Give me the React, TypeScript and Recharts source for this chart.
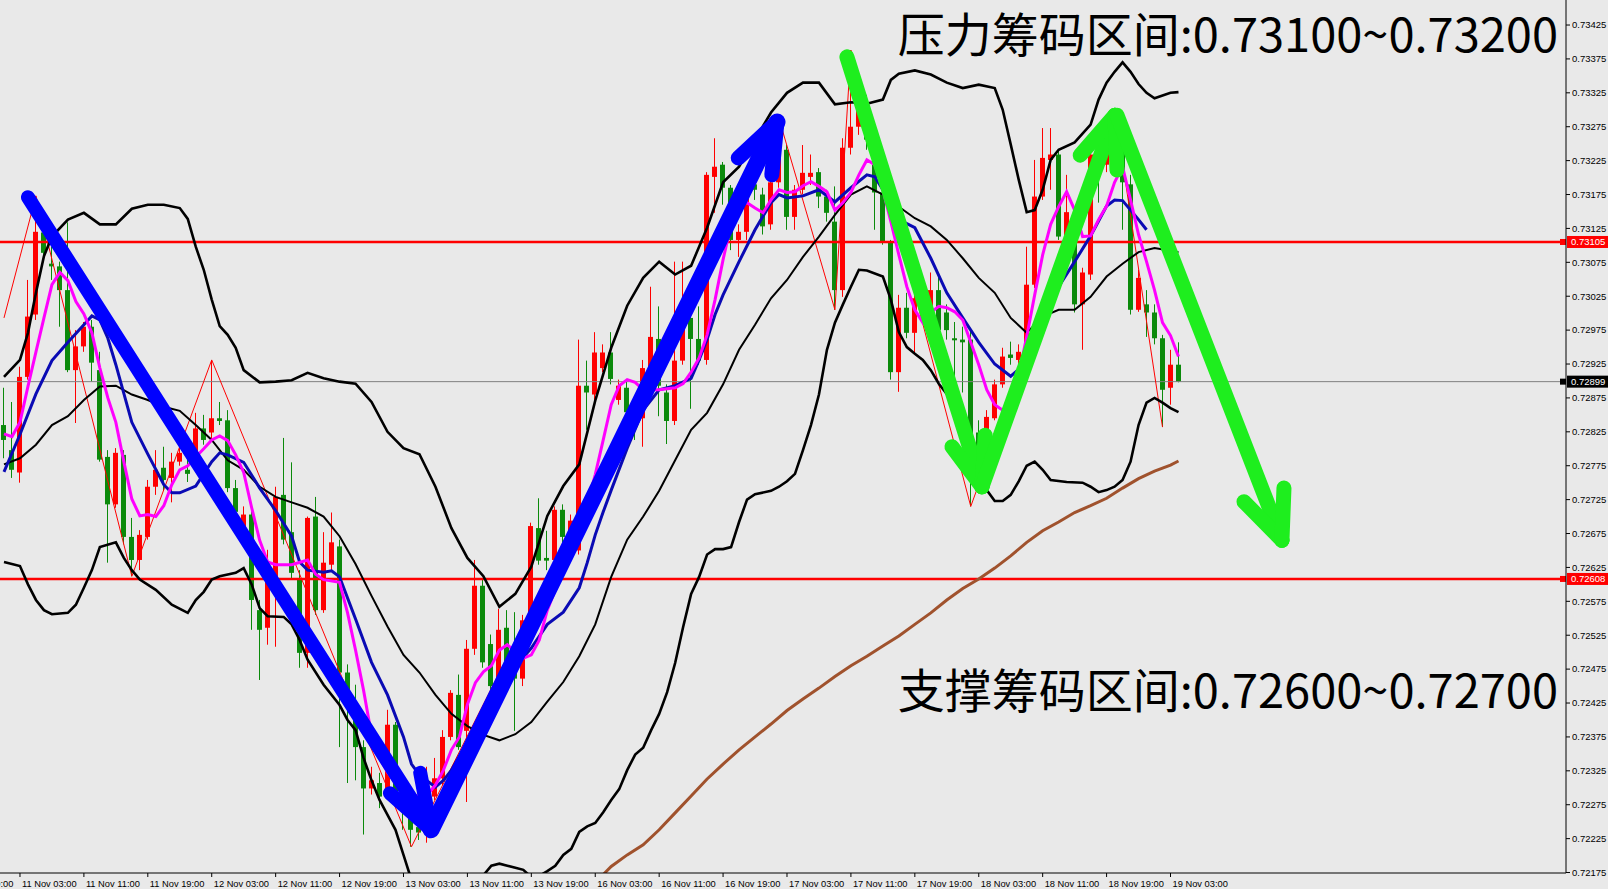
import React from 'react';
import { ComposedChart, Bar, Line, XAxis, YAxis, ReferenceLine } from 'recharts';

// prices are written in points (1 point = 0.00001)
const POINT = 100000;
const TOTAL = 196; // H1 slots across the plot (148 bars + chart shift)

// AUDUSD H1, 11 Nov 01:00 .. 19 Nov 04:00 : [open, high, low, close]
const ohlc: [number, number, number, number][] = [
  [72835,72890,72786,72813],[72798,72869,72757,72769],[72765,72921,72750,72906],[72906,73049,72902,72995],
  [72998,73173,72990,73120],[73119,73126,73076,73089],[73073,73098,73049,73069],[73069,73076,72980,73034],
  [73034,73134,72913,72916],[72916,72975,72838,72951],[72951,72987,72943,72980],[72980,72990,72899,72927],
  [72916,72943,72781,72784],[72788,72798,72632,72718],[72718,72801,72713,72794],[72791,72798,72659,72670],
  [72670,72698,72612,72636],[72636,72680,72621,72673],[72670,72754,72666,72744],[72744,72798,72732,72769],
  [72772,72803,72739,72754],[72757,72794,72721,72781],[72781,72816,72775,72794],[72769,72791,72751,72763],
  [72794,72853,72788,72830],[72830,72850,72806,72813],[72824,72931,72813,72845],[72845,72869,72835,72841],
  [72842,72857,72736,72742],[72742,72754,72695,72707],[72666,72715,72659,72703],[72703,72718,72533,72577],
  [72562,72577,72459,72533],[72536,72651,72511,72607],[72607,72744,72508,72729],[72732,72816,72659,72666],
  [72677,72780,72609,72617],[72607,72621,72477,72499],[72499,72700,72477,72698],[72700,72729,72555,72562],
  [72562,72677,72558,72632],[72629,72706,72621,72662],[72656,72666,72360,72470],[72470,72482,72307,72430],
  [72415,72452,72311,72360],[72360,72370,72231,72299],[72299,72331,72290,72311],[72307,72322,72270,72287],
  [72287,72415,72282,72393],[72393,72397,72282,72293],[72293,72311,72238,72267],[72267,72282,72213,72238],
  [72242,72260,72223,72234],[72234,72331,72219,72311],[72287,72344,72282,72314],[72314,72385,72304,72375],
  [72375,72444,72370,72440],[72437,72467,72356,72360],[72384,72518,72279,72505],[72505,72636,72496,72598],
  [72598,72607,72477,72485],[72512,72526,72444,72450],[72450,72564,72420,72533],[72536,72562,72456,72461],
  [72488,72559,72384,72461],[72461,72555,72450,72547],[72547,72691,72541,72686],[72683,72727,72629,72635],
  [72639,72679,72621,72635],[72636,72715,72629,72710],[72710,72718,72659,72670],[72647,72703,72636,72694],
  [72650,72961,72644,72893],[72893,72930,72828,72883],[72880,72972,72872,72942],[72919,72954,72913,72942],
  [72942,72972,72895,72903],[72872,72902,72865,72893],[72890,72902,72842,72854],[72854,72872,72813,72835],
  [72845,72931,72803,72919],[72893,73039,72887,72965],[72962,73010,72848,72893],[72883,72895,72807,72841],
  [72841,73076,72835,72930],[72930,73076,72924,72980],[72993,73020,72859,72962],[72962,73010,72924,72930],
  [72931,73208,72924,73204],[73201,73258,73148,73216],[73219,73223,73160,73185],[73185,73189,73093,73108],
  [73108,73131,73083,73120],[73120,73182,73108,73170],[73190,73197,73167,73182],[73175,73185,73116,73128],
  [73131,73204,73123,73193],[73193,73287,73185,73241],[73241,73248,73123,73142],[73142,73189,73123,73182],
  [73182,73248,73175,73207],[73201,73234,73189,73207],[73208,73214,73155,73172],[73172,73182,73135,73148],
  [73135,73187,73005,73034],[73034,73258,73024,73244],[73244,73388,73234,73275],[73275,73329,73263,73315],
  [73308,73322,73241,73256],[73256,73270,73123,73178],[73178,73187,73101,73104],[73104,73108,72902,72913],
  [72913,73027,72884,73008],[73008,73030,72963,72971],[72971,73034,72942,73022],[73022,73034,72990,73001],
  [73005,73060,72957,73034],[73034,73057,72968,72975],[73001,73013,72961,72975],[72963,72987,72906,72960],
  [72961,72980,72883,72957],[72961,72975,72715,72818],[72824,72842,72769,72803],[72821,72857,72813,72847],
  [72845,72902,72842,72895],[72895,72949,72890,72936],[72939,72958,72924,72934],[72931,72954,72924,72943],
  [72943,73098,72939,73042],[73042,73226,73037,73172],[73172,73273,73167,73229],[73226,73273,73182,73234],
  [73234,73241,73108,73113],[73113,73204,73108,73149],[73113,73123,73001,73013],[73013,73067,72946,73060],
  [73057,73241,73049,73234],[73226,73241,73163,73204],[73219,73270,73208,73256],[73256,73300,73248,73285],
  [73285,73293,73123,73193],[73190,73204,72998,73005],[73005,73064,73002,73052],[73013,73034,72965,73001],
  [73001,73013,72954,72963],[72963,72968,72832,72887],[72890,72946,72865,72924],[72924,72957,72898,72899],
];

// indicator readings: [bar index, points]
const upperBand: [number, number][] = [
  [0,72906],[2,72931],[3,72971],[4,73030],[5,73084],[6,73113],[8,73138],[10,73148],[12,73131],[14,73131],
  [16,73154],[18,73160],[20,73160],[22,73155],[23,73139],[24,73098],[25,73064],[26,73020],[27,72981],[28,72968],
  [29,72949],[30,72916],[32,72898],[34,72899],[36,72901],[38,72912],[40,72904],[42,72899],[44,72896],[46,72869],
  [48,72825],[50,72801],[52,72792],[54,72744],[56,72683],[58,72639],[60,72612],[62,72567],[64,72586],[66,72626],
  [68,72701],[70,72745],[72,72777],[74,72871],[76,72949],[78,73011],[80,73052],[82,73076],[84,73057],[86,73070],
  [88,73126],[90,73193],[92,73216],[94,73256],[96,73296],[98,73325],[100,73340],[102,73340],[104,73308],[106,73311],
  [108,73309],[110,73315],[111,73344],[112,73353],[114,73358],[116,73352],[118,73340],[120,73332],[122,73337],[124,73332],
  [125,73300],[126,73249],[127,73197],[128,73149],[129,73152],[130,73182],[131,73226],[132,73241],[134,73252],[136,73278],
  [137,73315],[138,73340],[139,73356],[140,73370],[141,73356],[142,73338],[143,73325],[144,73317],[146,73325],[147,73326],
];
const middleBand: [number, number][] = [
  [0,72777],[2,72786],[4,72806],[6,72835],[8,72848],[10,72872],[12,72892],[14,72893],[16,72880],[18,72872],
  [20,72862],[22,72856],[24,72835],[26,72813],[28,72783],[30,72769],[32,72744],[34,72729],[36,72721],[38,72713],
  [40,72700],[42,72671],[44,72630],[46,72583],[48,72538],[50,72496],[52,72470],[54,72437],[56,72409],[58,72391],
  [60,72378],[62,72370],[64,72379],[66,72397],[68,72427],[70,72456],[72,72494],[74,72541],[76,72611],[78,72666],
  [80,72700],[82,72738],[84,72783],[86,72828],[88,72853],[90,72895],[92,72946],[94,72983],[96,73022],[98,73049],
  [100,73083],[102,73113],[104,73145],[106,73175],[108,73187],[110,73175],[112,73157],[114,73140],[116,73128],[118,73108],
  [120,73081],[122,73052],[124,73030],[126,72993],[128,72971],[130,72995],[132,73005],[134,73005],[136,73024],[138,73054],
  [140,73073],[142,73090],[144,73096],[146,73092],[147,73090],
];
const lowerBand: [number, number][] = [
  [0,72633],[2,72627],[3,72600],[4,72577],[5,72562],[6,72556],[8,72558],[9,72570],[10,72595],[11,72621],
  [12,72655],[14,72662],[15,72639],[16,72621],[17,72607],[19,72592],[21,72570],[23,72558],[24,72577],[25,72589],
  [26,72607],[27,72612],[29,72617],[30,72624],[31,72600],[32,72565],[33,72553],[35,72552],[36,72541],[37,72518],
  [38,72489],[40,72452],[42,72422],[43,72400],[44,72385],[45,72344],[46,72311],[47,72282],[48,72260],[49,72238],
  [50,72201],[51,72164],[52,72135],[54,72127],[56,72127],[58,72142],[59,72158],[60,72171],[61,72185],[62,72188],
  [63,72185],[64,72182],[65,72179],[66,72168],[67,72170],[68,72177],[69,72185],[70,72201],[71,72210],[72,72235],
  [73,72243],[74,72248],[75,72264],[76,72282],[77,72298],[78,72326],[79,72349],[80,72359],[81,72385],[82,72409],
  [83,72441],[84,72484],[85,72537],[86,72586],[87,72611],[88,72644],[89,72652],[90,72652],[91,72655],[92,72692],
  [93,72725],[94,72733],[96,72738],[97,72744],[98,72752],[99,72763],[100,72798],[101,72835],[102,72880],[103,72946],
  [104,72986],[105,73013],[106,73039],[107,73064],[108,73063],[110,73054],[111,73020],[112,72972],[113,72950],[114,72940],
  [115,72931],[116,72916],[117,72896],[118,72881],[119,72854],[120,72813],[121,72784],[122,72761],[123,72739],[124,72723],
  [125,72723],[126,72732],[127,72752],[128,72775],[129,72781],[130,72769],[131,72754],[133,72751],[135,72750],[136,72744],
  [137,72736],[138,72739],[139,72744],[140,72754],[141,72781],[142,72835],[143,72868],[144,72875],[145,72868],[146,72860],
  [147,72854],
];
const blueMA: [number, number][] = [
  [0,72766],[2,72821],[4,72881],[6,72930],[8,72957],[10,72983],[11,72996],[12,72990],[13,72963],[14,72924],
  [16,72839],[18,72792],[20,72747],[21,72735],[22,72735],[24,72745],[26,72781],[27,72794],[28,72791],[30,72780],
  [32,72742],[34,72709],[36,72671],[37,72633],[38,72621],[40,72618],[41,72620],[42,72611],[44,72549],[46,72485],
  [48,72437],[50,72375],[51,72335],[52,72319],[54,72301],[55,72311],[56,72326],[58,72367],[60,72415],[62,72452],
  [64,72479],[66,72506],[68,72541],[70,72559],[72,72595],[73,72632],[74,72673],[75,72707],[76,72739],[78,72801],
  [80,72857],[82,72887],[84,72893],[86,72904],[87,72931],[88,72961],[89,72998],[90,73027],[92,73076],[94,73123],
  [96,73163],[97,73175],[98,73170],[100,73173],[102,73182],[104,73164],[106,73185],[108,73204],[109,73201],[110,73182],
  [112,73138],[114,73126],[116,73081],[118,73030],[120,72993],[122,72957],[124,72925],[126,72907],[128,72927],[130,72971],
  [131,73008],[132,73039],[134,73076],[136,73114],[138,73158],[139,73167],[140,73166],[142,73138],[143,73123],
];
const magentaMA: [number, number][] = [
  [0,72822],[1,72818],[2,72839],[3,72892],[4,72943],[5,72993],[6,73042],[7,73060],[8,73048],[9,73017],
  [10,72999],[11,72971],[12,72919],[13,72875],[14,72839],[15,72781],[16,72726],[17,72701],[18,72703],[19,72700],
  [20,72716],[21,72747],[22,72769],[23,72775],[24,72788],[25,72800],[26,72813],[27,72819],[28,72812],[29,72791],
  [30,72765],[31,72713],[32,72665],[33,72633],[34,72629],[36,72629],[38,72636],[39,72615],[40,72607],[42,72603],
  [43,72558],[44,72503],[45,72444],[46,72378],[47,72344],[48,72323],[49,72307],[50,72297],[51,72290],[52,72287],
  [53,72290],[54,72304],[55,72326],[56,72356],[57,72375],[58,72423],[59,72455],[60,72471],[61,72480],[62,72503],
  [63,72511],[64,72500],[65,72491],[66,72496],[67,72518],[68,72562],[69,72592],[70,72629],[71,72666],[72,72703],
  [73,72718],[74,72762],[75,72813],[76,72865],[77,72893],[78,72902],[79,72898],[80,72887],[82,72887],[84,72890],
  [85,72896],[86,72913],[87,72934],[88,72968],[89,73020],[90,73079],[91,73131],[92,73157],[93,73163],[94,73155],
  [95,73148],[96,73167],[97,73182],[98,73178],[99,73179],[100,73188],[101,73194],[102,73187],[103,73179],[104,73152],
  [105,73163],[106,73178],[107,73204],[108,73226],[109,73219],[110,73182],[111,73135],[112,73086],[113,73039],[114,73005],
  [115,72986],[116,73001],[117,73010],[118,73008],[119,73002],[120,72990],[121,72957],[122,72924],[123,72887],[124,72865],
  [125,72857],[126,72872],[127,72909],[128,72965],[129,73027],[130,73086],[131,73131],[132,73157],[133,73179],[134,73152],
  [135,73113],[136,73114],[137,73138],[138,73158],[139,73193],[140,73216],[141,73167],[142,73116],[143,73076],[144,73034],
  [145,72986],[146,72967],[147,72936],
];
const brownMA: [number, number][] = [
  [74,72157],[75,72172],[76,72184],[78,72201],[80,72216],[82,72238],[84,72263],[86,72288],[88,72313],[90,72335],
  [92,72356],[94,72375],[96,72394],[98,72414],[100,72431],[102,72447],[104,72464],[106,72480],[108,72494],[110,72509],
  [112,72524],[114,72541],[116,72558],[118,72577],[120,72594],[122,72608],[124,72624],[126,72642],[128,72662],[130,72679],
  [132,72692],[134,72706],[136,72716],[138,72727],[140,72742],[142,72756],[144,72767],[146,72776],[147,72782],
];
const zigzag: [number, number][] = [
  [0,72993],[4,73173],[16,72612],[26,72931],[51,72213],[97,73287],[104,73005],[106,73388],[121,72715],[139,73300],[145,72832],
];

const timeTicks: [number, string][] = [
  [2,'11 Nov 03:00'],[10,'11 Nov 11:00'],[18,'11 Nov 19:00'],[26,'12 Nov 03:00'],[34,'12 Nov 11:00'],
  [42,'12 Nov 19:00'],[50,'13 Nov 03:00'],[58,'13 Nov 11:00'],[66,'13 Nov 19:00'],[74,'16 Nov 03:00'],
  [82,'16 Nov 11:00'],[90,'16 Nov 19:00'],[98,'17 Nov 03:00'],[106,'17 Nov 11:00'],[114,'17 Nov 19:00'],
  [122,'18 Nov 03:00'],[130,'18 Nov 11:00'],[138,'18 Nov 19:00'],[146,'19 Nov 03:00'],
];
const cutLabel = '10 Nov 19:00';
const yTicks: number[] = [
  0.72175,0.72225,0.72275,0.72325,0.72375,0.72425,0.72475,0.72525,0.72575,0.72625,0.72675,0.72725,0.72775,
  0.72825,0.72875,0.72925,0.72975,0.73025,0.73075,0.73125,0.73175,0.73225,0.73275,0.73325,0.73375,0.73425,
];
const yDomain: [number, number] = [0.721743, 0.734619];
const resistanceLine = 0.73105;
const supportLine = 0.72608;
const lastPrice = 0.72899;

const texts = ['压力筹码区间:0.73100~0.73200', '支撑筹码区间:0.72600~0.72700'];

// hand-drawn arrows: [fromBar, fromPrice, toBar, toPrice, width]
const blueArrows: [number, number, number, number, number][] = [
  [3.0, 0.73171, 53.45, 0.72238, 14],
  [53.45, 0.72238, 48.3, 0.72292, 14],
  [53.45, 0.72238, 52.1, 0.72322, 14],
  [53.45, 0.72238, 96.75, 0.73282, 17],
  [96.75, 0.73282, 91.9, 0.73229, 15],
  [96.75, 0.73282, 96.1, 0.73204, 15],
];
const greenArrows: [number, number, number, number, number][] = [
  [105.5, 0.73378, 122.4, 0.72744, 15],
  [122.4, 0.72744, 118.65, 0.72803, 15],
  [122.4, 0.72744, 122.8, 0.72820, 15],
  [122.4, 0.72744, 139.05, 0.73292, 15],
  [139.05, 0.73292, 134.7, 0.73233, 15],
  [139.05, 0.73292, 139.3, 0.73211, 15],
  [139.3, 0.73292, 159.95, 0.72665, 15],
  [159.95, 0.72665, 155.2, 0.72722, 15],
  [159.95, 0.72665, 160.2, 0.72742, 15],
];

const rows: any[] = Array.from({ length: TOTAL }, (_, k) => ({ k }));
ohlc.forEach(([o, h, l, c], k) => Object.assign(rows[k], { o: o / POINT, h: h / POINT, l: l / POINT, c: c / POINT }));
const put = (key: string, arr: [number, number][]) => arr.forEach(([k, v]) => { rows[k][key] = v / POINT; });
put('up', upperBand);
put('mid', middleBand);
put('lo', lowerBand);
put('blue', blueMA);
put('mag', magentaMA);
put('brown', brownMA);
put('zz', zigzag);

const tickLabel = new Map(timeTicks);
const AXIS_FONT = "'Liberation Sans', Arial, sans-serif";
const UP = '#FF0000';
const DOWN = '#0B8A0B';

const Candle = (props: any) => {
  const { x, y, width, height, payload } = props;
  if (!payload || payload.o == null) return null;
  const { o, h, l, c } = payload;
  const color = c >= o ? UP : DOWN;
  const top = height < 0 ? y + height : y;
  const hh = Math.abs(height);
  const ppu = h - l > 0 ? hh / (h - l) : 0;
  const bTop = top + (h - Math.max(o, c)) * ppu;
  const bBot = top + (h - Math.min(o, c)) * ppu;
  const col = Math.round(x + width / 2 - 0.5);
  return (
    <g>
      <line x1={col + 0.5} x2={col + 0.5} y1={top} y2={top + hh} stroke={color} strokeWidth={1} />
      <rect x={col - 2} y={bTop} width={5} height={Math.max(1, bBot - bTop)} fill={color} />
    </g>
  );
};

const XTick = (props: any) => {
  const { x, y, payload } = props;
  const label = tickLabel.get(payload.value);
  return (
    <g>
      <line x1={x} x2={x} y1={y} y2={y + 4} stroke="#000" strokeWidth={1} />
      <text x={x + 2} y={y + 13.5} fontSize={9.3} fontFamily={AXIS_FONT} fill="#000">{label}</text>
      {payload.value === timeTicks[0][0] ? (
        <g>
          <line x1={x - 63.9} x2={x - 63.9} y1={y} y2={y + 4} stroke="#000" />
          <text x={x - 61.9} y={y + 13.5} fontSize={9.3} fontFamily={AXIS_FONT} fill="#000">{cutLabel}</text>
        </g>
      ) : null}
    </g>
  );
};

const YTick = (props: any) => {
  const { x, y, payload } = props;
  return (
    <g>
      <line x1={x} x2={x + 4} y1={y} y2={y} stroke="#000" strokeWidth={1} />
      <text x={x + 6} y={y} dy="0.35em" fontSize={9.5} fontFamily={AXIS_FONT} fill="#000">
        {Number(payload.value).toFixed(5)}
      </text>
    </g>
  );
};

const priceTag = (bg: string, value: number) => (props: any) => {
  const vb = props.viewBox || {};
  const x = (vb.x ?? 0) + (vb.width ?? 0);
  const y = vb.y ?? 0;
  return (
    <g>
      <rect x={x - 6} y={y - 3} width={6} height={6} fill={bg} />
      <rect x={x + 1} y={y - 6} width={41} height={12} fill={bg} />
      <text x={x + 5} y={y} dy="0.35em" fontSize={9.5} fontFamily={AXIS_FONT} fill="#fff">{value.toFixed(5)}</text>
    </g>
  );
};

const lineProps = {
  xAxisId: 'cat',
  yAxisId: 'p',
  dot: false,
  activeDot: false,
  connectNulls: true,
  isAnimationActive: false,
  type: 'linear' as const,
};

export default function App() {
  return (
    <div style={{ position: 'absolute', left: 0, top: 0, width: 1608, height: 889, background: '#E9E9E9', overflow: 'hidden' }}>
      <ComposedChart width={1608} height={889} data={rows} margin={{ top: 0, right: 0, bottom: 0, left: 0 }}>
        <XAxis
          xAxisId="cat"
          dataKey="k"
          type="category"
          ticks={timeTicks.map((t) => t[0])}
          interval={0}
          tick={<XTick />}
          tickLine={false}
          tickSize={0}
          tickMargin={0}
          height={16}
          axisLine={{ stroke: '#000' }}
        />
        <XAxis xAxisId="num" dataKey="k" type="number" domain={[-0.5, TOTAL - 0.5]} allowDataOverflow hide />
        <YAxis
          yAxisId="p"
          orientation="right"
          type="number"
          domain={yDomain}
          allowDataOverflow
          ticks={yTicks}
          interval={0}
          tick={<YTick />}
          tickLine={false}
          tickSize={0}
          tickMargin={0}
          width={42}
          axisLine={{ stroke: '#000' }}
        />
        <Bar
          xAxisId="cat"
          yAxisId="p"
          dataKey={(d: any) => (d.o != null ? [d.l, d.h] : null)}
          barSize={5}
          shape={(p: any) => <Candle {...p} />}
          isAnimationActive={false}
        />
        <ReferenceLine xAxisId="cat" yAxisId="p" y={lastPrice} stroke="#808080" strokeWidth={1} label={priceTag('#000000', lastPrice)} />
        <ReferenceLine xAxisId="cat" yAxisId="p" y={resistanceLine} stroke="#FF0000" strokeWidth={2.5} label={priceTag('#FF0000', resistanceLine)} />
        <ReferenceLine xAxisId="cat" yAxisId="p" y={supportLine} stroke="#FF0000" strokeWidth={2.5} label={priceTag('#FF0000', supportLine)} />
        <Line {...lineProps} dataKey="zz" stroke="#FF0000" strokeWidth={1} />
        <Line {...lineProps} dataKey="brown" stroke="#A0522D" strokeWidth={3} />
        <Line {...lineProps} dataKey="up" stroke="#000" strokeWidth={2.6} />
        <Line {...lineProps} dataKey="mid" stroke="#000" strokeWidth={2} />
        <Line {...lineProps} dataKey="lo" stroke="#000" strokeWidth={2.6} />
        <Line {...lineProps} dataKey="blue" stroke="#0A0AB4" strokeWidth={3} />
        <Line {...lineProps} dataKey="mag" stroke="#FF00FF" strokeWidth={3} />
        {blueArrows.map(([k1, p1, k2, p2, w], i) => (
          <ReferenceLine
            key={'b' + i}
            xAxisId="num"
            yAxisId="p"
            segment={[{ x: k1, y: p1 }, { x: k2, y: p2 }]}
            stroke="#0000FF"
            strokeWidth={w}
            strokeLinecap="round"
            ifOverflow="visible"
          />
        ))}
        {greenArrows.map(([k1, p1, k2, p2, w], i) => (
          <ReferenceLine
            key={'g' + i}
            xAxisId="num"
            yAxisId="p"
            segment={[{ x: k1, y: p1 }, { x: k2, y: p2 }]}
            stroke="#1EEE1E"
            strokeWidth={w}
            strokeLinecap="round"
            ifOverflow="visible"
          />
        ))}
      </ComposedChart>
      <svg width={1608} height={889} style={{ position: 'absolute', left: 0, top: 0, pointerEvents: 'none' }}>
        <text x={1558} y={52} textAnchor="end" fontSize={47} fontFamily="'Noto Sans CJK SC', sans-serif" fill="#000">{texts[0]}</text>
        <text x={1558} y={708} textAnchor="end" fontSize={47} fontFamily="'Noto Sans CJK SC', sans-serif" fill="#000">{texts[1]}</text>
      </svg>
    </div>
  );
}
